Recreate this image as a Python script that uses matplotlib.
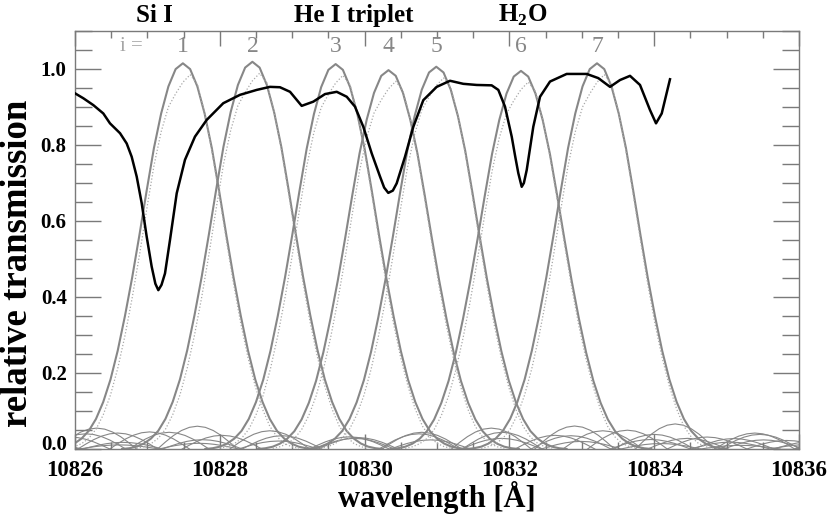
import numpy as np
import matplotlib
matplotlib.use("Agg")
import matplotlib.pyplot as plt

SPEC_WL = [10826.000, 10826.115, 10826.253, 10826.391, 10826.483, 10826.622,
           10826.714, 10826.783, 10826.852, 10826.921, 10826.990, 10827.059,
           10827.110, 10827.151, 10827.195, 10827.243, 10827.312, 10827.405,
           10827.519, 10827.657, 10827.819, 10828.048, 10828.279, 10828.510,
           10828.693, 10828.831, 10828.970, 10829.131, 10829.291, 10829.453,
           10829.615, 10829.753, 10829.867, 10829.982, 10830.098, 10830.213,
           10830.270, 10830.327, 10830.390, 10830.443, 10830.558, 10830.673,
           10830.811, 10830.996, 10831.180, 10831.363, 10831.548, 10831.755,
           10831.847, 10831.939, 10832.032, 10832.080, 10832.123, 10832.170,
           10832.200, 10832.239, 10832.330, 10832.423, 10832.561, 10832.791,
           10833.068, 10833.228, 10833.390, 10833.528, 10833.666, 10833.804,
           10833.942, 10834.025, 10834.104, 10834.218]
SPEC_T = [0.936, 0.923, 0.905, 0.883, 0.857, 0.831,
          0.804, 0.769, 0.717, 0.647, 0.559, 0.480,
          0.435, 0.418, 0.432, 0.462, 0.550, 0.673,
          0.761, 0.822, 0.866, 0.910, 0.932, 0.945,
          0.953, 0.952, 0.940, 0.903, 0.914, 0.934,
          0.940, 0.927, 0.901, 0.848, 0.778, 0.717,
          0.688, 0.674, 0.680, 0.699, 0.769, 0.848,
          0.918, 0.953, 0.969, 0.961, 0.958, 0.957,
          0.945, 0.901, 0.822, 0.770, 0.726, 0.690,
          0.700, 0.734, 0.848, 0.927, 0.967, 0.987,
          0.987, 0.976, 0.953, 0.971, 0.982, 0.958,
          0.892, 0.857, 0.883, 0.973]

# filter channels i = 1..7
FILTER_ID = ["1", "2", "3", "4", "5", "6", "7"]
FILTER_CENTER = [10827.49, 10828.45, 10829.60, 10830.33, 10830.99, 10832.16, 10833.21]
FILTER_PEAK = [1.015, 1.019, 1.013, 0.997, 1.006, 0.995, 1.015]

# main lobe shape (solid), offsets in Angstrom, one side
LOBE_DX = [0.0, 0.1, 0.2, 0.3, 0.4, 0.5, 0.6, 0.7, 0.8, 0.9,
           1.0, 1.1, 1.2, 1.3, 1.4, 1.5, 1.6, 1.7, 1.8]
LOBE_T = [1.000, 0.985, 0.940, 0.870, 0.780, 0.670, 0.555, 0.445, 0.345, 0.255,
          0.180, 0.122, 0.078, 0.047, 0.027, 0.014, 0.006, 0.002, 0.000]

# measured profile (dotted), offsets -1.6 .. 1.6
DOT_DX = [-1.6, -1.5, -1.4, -1.3, -1.2, -1.1, -1.0, -0.9, -0.8, -0.7, -0.6,
          -0.5, -0.4, -0.3, -0.2, -0.1, 0.0, 0.1, 0.2, 0.3, 0.4, 0.5,
          0.6, 0.7, 0.8, 0.9, 1.0, 1.1, 1.2, 1.3, 1.4, 1.5, 1.6]
DOT_T = [0.002, 0.006, 0.014, 0.028, 0.052, 0.090, 0.142, 0.212, 0.298, 0.398, 0.510,
         0.630, 0.745, 0.835, 0.900, 0.935, 0.965, 0.985, 0.960, 0.885, 0.785, 0.670,
         0.550, 0.435, 0.330, 0.240, 0.165, 0.105, 0.060, 0.032, 0.015, 0.006, 0.002]

# side lobes: one normalized arch, positions and heights relative to filter centre
ARCH = [0.0, 0.31, 0.59, 0.81, 0.95, 1.0, 0.95, 0.81, 0.59, 0.31, 0.0]
SIDE_POS = [-7.7, -6.6, -5.5, -4.4, -3.3, -2.3, 2.3, 3.3, 4.4, 5.5, 6.6, 7.7]
SIDE_H = [0.012, 0.018, 0.025, 0.035, 0.050, 0.040, 0.040, 0.055, 0.035, 0.025, 0.018, 0.012]
SIDE_SCALE = [0.8, 1.0, 1.1, 0.9, 1.2, 0.7, 0.6]

LINE_LABELS = ["Si I", "He I triplet", "H$_\\mathregular{2}$O"]
LINE_LABEL_X = [10827.10, 10829.85, 10832.18]

Y_TICKS = [0.0, 0.2, 0.4, 0.6, 0.8, 1.0]
X_TICKS = [10826, 10828, 10830, 10832, 10834, 10836]

GRAY = "#878787"
FRAME = "#7a7a7a"

plt.rcParams["font.family"] = ["Liberation Serif", "DejaVu Serif"]
plt.rcParams["mathtext.fontset"] = "custom"
plt.rcParams["mathtext.rm"] = "Liberation Serif:bold"

fig = plt.figure(figsize=(8.30, 5.17), dpi=100)
ax = fig.add_axes([75 / 830, 1 - 449 / 517, 724 / 830, 418 / 517])

lobe_dx = np.array(LOBE_DX)
lobe_t = np.array(LOBE_T)
main_dx = np.concatenate([-lobe_dx[::-1], lobe_dx[1:]])
main_t = np.concatenate([lobe_t[::-1], lobe_t[1:]])
arch = np.array(ARCH)
arch_dx = np.linspace(-0.55, 0.55, len(ARCH))

for k, c in enumerate(FILTER_CENTER):
    for pos, h in zip(SIDE_POS, SIDE_H):
        ax.plot(c + pos + arch_dx, arch * h * SIDE_SCALE[k], color=GRAY, lw=0.8, zorder=1)
    ax.plot(c + main_dx, main_t * FILTER_PEAK[k], color=GRAY, lw=1.5, zorder=2)
    ax.plot(c + np.array(DOT_DX), np.array(DOT_T) * FILTER_PEAK[k] / 1.015,
            color="#a8a8a8", lw=0.9, ls=(0, (1, 1.6)), zorder=2)
    ax.text(c, 1.058, FILTER_ID[k], ha="center", va="center", color=GRAY,
            fontsize=17, zorder=4)

ax.text(10826.78, 1.058, "i =", ha="center", va="center", color="#a6a6a6", fontsize=15)

ax.plot(SPEC_WL, SPEC_T, color="black", lw=1.8, zorder=3)

for lab, x in zip(LINE_LABELS, LINE_LABEL_X):
    ax.text(x, 1.142, lab, ha="center", va="center", fontsize=18,
            fontweight="bold", clip_on=False)

ax.set_xlim(10826, 10836)
ax.set_ylim(0, 1.1)
ax.set_xticks(X_TICKS)
ax.set_xticklabels([str(v) for v in X_TICKS])
ax.set_xticks(np.arange(10826, 10836.01, 0.5), minor=True)
ax.set_yticks(Y_TICKS)
# 0.0 drawn separately, a little above the axis, like the reference
ax.set_yticklabels([""] + [f"{v:.1f}" for v in Y_TICKS[1:]])
ax.set_yticks(np.arange(0, 1.101, 0.05), minor=True)
ax.annotate("0.0", xy=(0, 0), xycoords=("axes fraction", "data"), xytext=(-6, 3),
            textcoords="offset points", ha="right", va="center", fontsize=15,
            fontweight="bold")

ax.tick_params(which="both", direction="in", top=True, right=True, color=FRAME, width=1)
ax.tick_params(axis="y", which="major", length=19, pad=6, labelsize=15)
ax.tick_params(axis="y", which="minor", length=12)
ax.tick_params(axis="x", which="major", length=11, pad=8, labelsize=16.5)
ax.tick_params(axis="x", which="minor", length=5)
for lab in ax.get_xticklabels() + ax.get_yticklabels():
    lab.set_fontweight("bold")
for sp in ax.spines.values():
    sp.set_color(FRAME)
    sp.set_linewidth(1)

ax.set_xlabel("wavelength [Å]", fontsize=22, fontweight="bold", va="center")
ax.xaxis.set_label_coords(0.5, -0.116)
ax.set_ylabel("relative transmission", fontsize=26.5, fontweight="bold", va="center")
ax.yaxis.set_label_coords(-0.080, 0.445)

fig.savefig("out.png", dpi=100)
